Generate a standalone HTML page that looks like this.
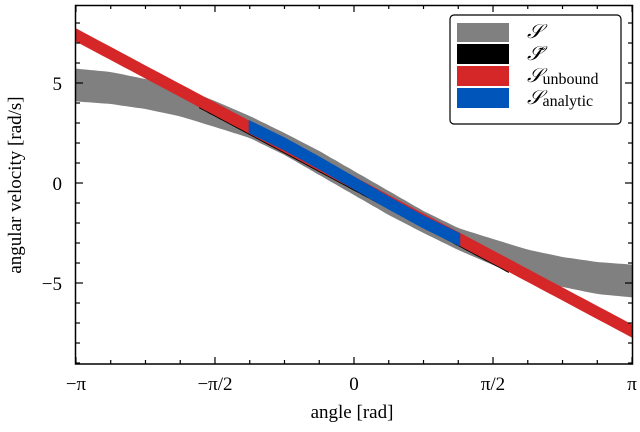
<!DOCTYPE html>
<html><head><meta charset="utf-8"><style>
body{margin:0;background:#fff;}
svg{display:block;font-family:"Liberation Serif",serif;}
</style></head><body>
<svg id="chart" width="640" height="432" viewBox="0 0 640 432" xmlns="http://www.w3.org/2000/svg">
<g id="marks"></g>
<rect x="75.5" y="5.5" width="557" height="358.5" fill="none" stroke="#000" stroke-width="1.5"/>
<g id="ticks"></g>
<text x="352" y="418" font-size="19" text-anchor="middle">angle [rad]</text>
<text transform="translate(21,185) rotate(-90)" font-size="19" text-anchor="middle">angular velocity [rad/s]</text>
<g>
<rect x="450" y="15" width="171" height="109" rx="4" fill="#fff" stroke="#000" stroke-width="1.2"/>
<rect x="457" y="23" width="52" height="19" fill="#808080"/>
<rect x="457" y="44" width="52" height="20" fill="#000"/>
<rect x="457" y="66" width="52" height="20" fill="#d62728"/>
<rect x="457" y="88" width="52" height="20" fill="#0055bb"/>
<text x="527" y="38" font-size="20" font-style="italic">𝒮</text>
<text x="527" y="60" font-size="20" font-style="italic">𝒮̃</text>
<text x="527" y="82" font-size="20" font-style="italic">𝒮<tspan font-style="normal" font-size="16" dy="2">unbound</tspan></text>
<text x="527" y="104" font-size="20" font-style="italic">𝒮<tspan font-style="normal" font-size="16" dy="2">analytic</tspan></text>
</g>
</svg>
<script>
const xGrid = [-8,-7,-6,-5,-4,-3,-2,-1,0,1,2,3,4,5,6,7,8]; // multiples of pi/8
const grayCenter = [4.9,4.75,4.45,4.05,3.45,2.8,1.95,1.0,0,-1.0,-1.95,-2.8,-3.45,-4.05,-4.45,-4.75,-4.9];
const grayHalf = [0.82,0.8,0.75,0.72,0.65,0.55,0.55,0.6,0.6,0.6,0.55,0.55,0.65,0.72,0.75,0.8,0.82];
const redEnds = [7.4,-7.4];
const redHalf = 0.33;
const blueRange = [-1.19,1.2];
const blueHalf = 0.33;
const xTickLabels = ["\u2212\u03c0","\u2212\u03c0/2","0","\u03c0/2","\u03c0"];
const yTickValues = [5,0,-5];
const yTickLabels = ["5","0","\u22125"];

const PI=Math.PI;
const X=v=>354+v*88.5;
const Y=v=>183-v*20;
const NS="http://www.w3.org/2000/svg";
const marks=document.getElementById('marks');
const ticks=document.getElementById('ticks');
function interp(arr,x){const t=(x/(PI/8))+8;let i=Math.max(0,Math.min(15,Math.floor(t)));const f=t-i;return arr[i]*(1-f)+arr[i+1]*f;}
function band(x0,x1,cf,hf,color,name){
 let up=[],lo=[];
 for(let k=0;k<=120;k++){const x=x0+(x1-x0)*k/120;up.push(X(x).toFixed(1)+','+Y(cf(x)+hf(x)).toFixed(1));lo.unshift(X(x).toFixed(1)+','+Y(cf(x)-hf(x)).toFixed(1));}
 const p=document.createElementNS(NS,'polygon');
 p.setAttribute('points',up.concat(lo).join(' '));p.setAttribute('fill',color);
 
 
 marks.appendChild(p);
}
const redF=x=>redEnds[0]+(redEnds[1]-redEnds[0])*(x+PI)/(2*PI);
band(-PI,PI,x=>interp(grayCenter,x),x=>interp(grayHalf,x),'#808080','gray-band-s');
band(-1.75,1.75,x=>redF(x)-0.08,x=>0.3,'#000','black-band-s-tilde');
band(-PI-0.02,PI+0.02,redF,x=>redHalf,'#d62728','red-band-unbound');
band(blueRange[0],blueRange[1],x=>interp(grayCenter,x),x=>blueHalf,'#0055bb','blue-band-analytic');
const cp=document.createElementNS(NS,'clipPath');cp.setAttribute('id','cp');
const cr=document.createElementNS(NS,'rect');cr.setAttribute('x',76);cr.setAttribute('y',6);cr.setAttribute('width',556);cr.setAttribute('height',357);
cp.appendChild(cr);document.getElementById('chart').appendChild(cp);marks.setAttribute('clip-path','url(#cp)');
function line(x1,y1,x2,y2){const l=document.createElementNS(NS,'line');l.setAttribute('x1',x1);l.setAttribute('y1',y1);l.setAttribute('x2',x2);l.setAttribute('y2',y2);l.setAttribute('stroke','#000');l.setAttribute('stroke-width',1.2);
 
 
 ticks.appendChild(l);}
for(let k=-8;k<=8;k++){const x=X(k*PI/8);const len=k%4===0?7:4;line(x,364,x,364-len);line(x,5,x,5+len);}
for(let v=-9;v<=8;v++){const y=Y(v);const len=v%5===0?7:4;line(76,y,76+len,y);line(632,y,632-len,y);}
xTickLabels.forEach((t,i)=>{const tx=document.createElementNS(NS,'text');tx.setAttribute('x',X(-PI+i*PI/2));tx.setAttribute('y',390);tx.setAttribute('font-size',19);tx.setAttribute('text-anchor','middle');tx.textContent=t;
 
 
 ticks.appendChild(tx);});
yTickValues.forEach((v,i)=>{const tx=document.createElementNS(NS,'text');tx.setAttribute('x',62);tx.setAttribute('y',Y(v)+7);tx.setAttribute('font-size',19);tx.setAttribute('text-anchor','end');tx.textContent=yTickLabels[i];
 
 
 ticks.appendChild(tx);});
</script>
</body></html>
